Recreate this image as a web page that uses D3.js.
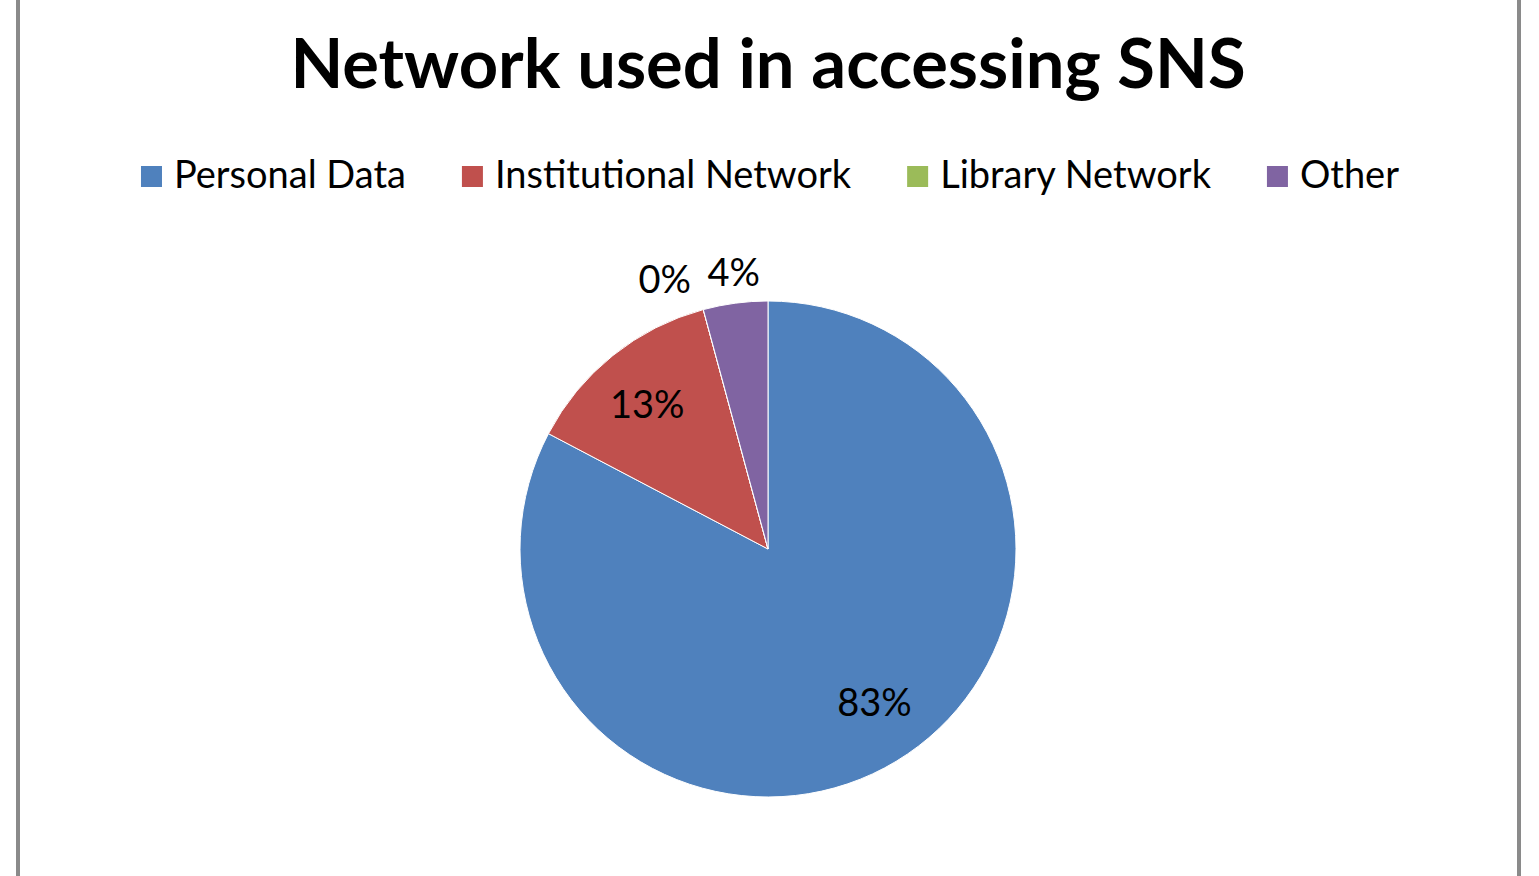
<!DOCTYPE html>
<html lang="en">
  <head>
    <meta charset="utf-8" />
    <title>Network used in accessing SNS</title>
    <script type="text/javascript" src="https://d3js.org/d3.v7.min.js"></script>
    <style>
      html, body { margin: 0; padding: 0; background: #fff; overflow: hidden; }
    </style>
  </head>
  <body>
    <div id="chart"></div>

    <script type="text/javascript">
      /********************************
       * data
       ********************************/

      const title = "Network used in accessing SNS";
      const categories = ["Personal Data", "Institutional Network", "Library Network", "Other"];
      const values = [82.7, 13.1, 0, 4.2];
      const colors = ["#4F81BD", "#C0504D", "#9BBB59", "#8064A2"];

      /***************************
       * svg
       **************************/

      const width = 1539;
      const height = 876;
      const fontFamily = "Lato, 'Open Sans', sans-serif";

      const svg = d3
        .select("div#chart")
        .append("svg")
        .attr("width", width)
        .attr("height", height);

      // chart frame, only the side edges show in the picture
      svg.append("line")
        .attr("x1", 18).attr("x2", 18)
        .attr("y1", 0).attr("y2", height)
        .style("stroke", "#8a8a8a")
        .style("stroke-width", 4);
      svg.append("line")
        .attr("x1", 1519).attr("x2", 1519)
        .attr("y1", 0).attr("y2", height)
        .style("stroke", "#8a8a8a")
        .style("stroke-width", 4);

      /****************************
       * title
       ****************************/

      const titleText = svg.append("text")
        .attr("x", 768)
        .attr("y", 88)
        .attr("text-anchor", "middle")
        .style("font-family", fontFamily)
        .style("font-weight", "bold")
        .style("font-size", "64px")
        .style("fill", "#000")
        .text(title);

      // shrink / grow to the width of the original title
      const tw = titleText.node().getComputedTextLength();
      titleText.style("font-size", (64 * 955 / tw).toFixed(1) + "px");

      /****************************
       * legend
       ****************************/

      const legendFont = 38;
      const swatch = 21;
      const swatchGap = 12;
      const itemGap = 56;

      const legend = svg.append("g").attr("class", "legend");

      const items = legend
        .selectAll("g")
        .data(categories)
        .enter()
        .append("g");

      items.append("rect")
        .attr("width", swatch)
        .attr("height", swatch)
        .attr("y", 166)
        .style("fill", (d, i) => colors[i]);

      items.append("text")
        .attr("x", swatch + swatchGap)
        .attr("y", 188)
        .style("font-family", fontFamily)
        .style("font-size", legendFont + "px")
        .style("fill", "#000")
        .text((d) => d);

      // lay the items out in a centred row
      let xpos = 0;
      const offsets = [];
      items.each(function () {
        const w = d3.select(this).select("text").node().getComputedTextLength();
        offsets.push(xpos);
        xpos += swatch + swatchGap + w + itemGap;
      });
      const rowWidth = xpos - itemGap;
      const startX = 770 - rowWidth / 2;
      items.attr("transform", (d, i) => `translate(${startX + offsets[i]},0)`);

      /****************************
       * pie
       ****************************/

      const cx = 768;
      const cy = 549;
      const radius = 248;

      const pie = d3.pie().sort(null).value((d) => d);
      const arcs = pie(values);
      const total = d3.sum(values);

      const arc = d3.arc().innerRadius(0).outerRadius(radius);
      const labelArc = d3.arc().innerRadius(radius * 0.76).outerRadius(radius * 0.76);
      const outerArc = d3.arc().innerRadius(radius + 28).outerRadius(radius + 28);

      const g = svg.append("g").attr("transform", `translate(${cx},${cy})`);

      g.selectAll("path")
        .data(arcs)
        .enter()
        .append("path")
        .attr("d", arc)
        .style("fill", (d, i) => colors[i])
        .style("stroke", "#fff")
        .style("stroke-width", 1);

      // labels: big slices inside, small ones outside above the pie
      const pct = (d) => Math.round((d.value / total) * 100) + "%";

      g.selectAll("text")
        .data(arcs)
        .enter()
        .append("text")
        .attr("text-anchor", "middle")
        .attr("dy", "0.35em")
        .style("font-family", fontFamily)
        .style("font-size", legendFont + "px")
        .style("fill", "#000")
        .attr("transform", function (d, i) {
          const share = d.value / total;
          if (share > 0.08) {
            const c = labelArc.centroid(d);
            // nudge the big slice label a little right/up like the original
            const dx = share > 0.5 ? 9 : -3;
            const dy = share > 0.5 ? -8 : 3;
            return `translate(${c[0] + dx},${c[1] + dy})`;
          }
          // small slices: next to the last small slice label at the top
          const last = arcs[arcs.length - 1];
          const c = outerArc.centroid(last);
          const k = arcs.length - 1 - i;
          return `translate(${c[0] + 2 - k * 69},${c[1] - 3 + k * 7})`;
        })
        .text(pct);
    </script>
  </body>
</html>
